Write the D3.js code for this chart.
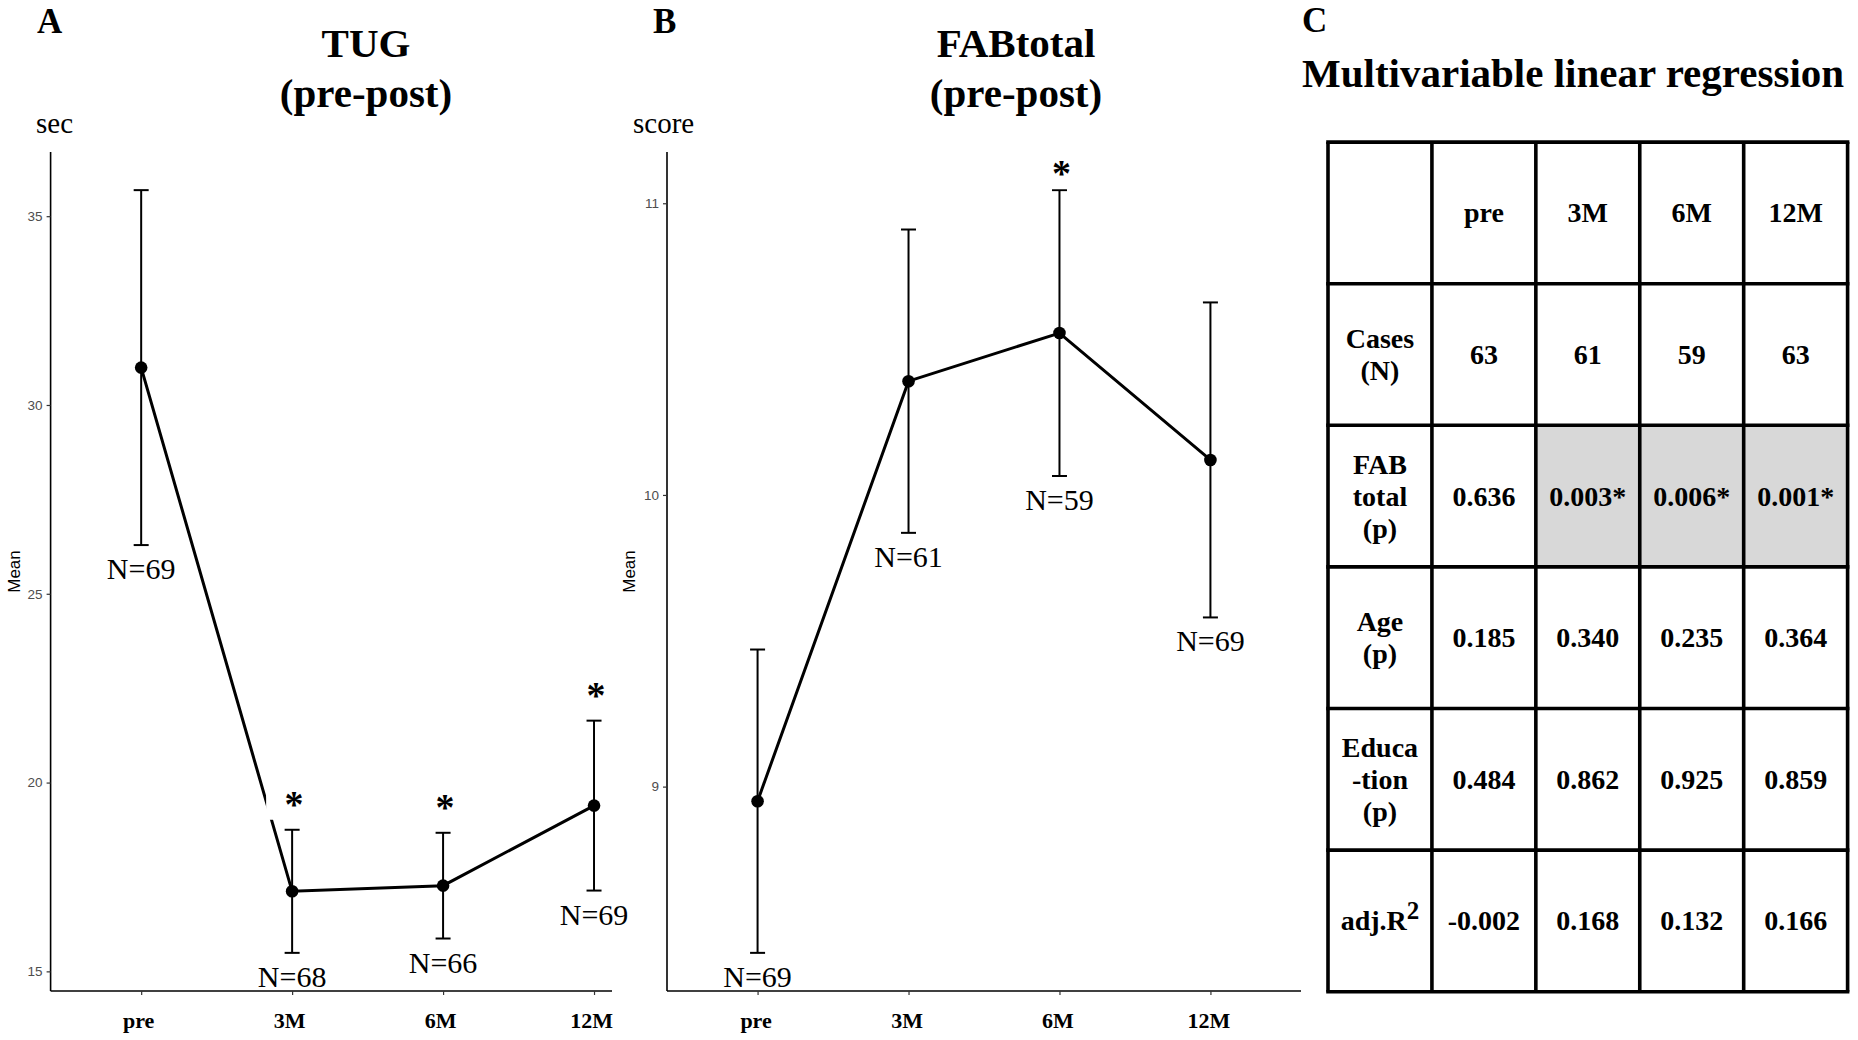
<!DOCTYPE html>
<html>
<head>
<meta charset="utf-8">
<script src="https://cdn.jsdelivr.net/npm/d3@7.9.0/dist/d3.min.js"></script>
<style>
  body { margin: 0; background: #fff; }
  svg { display: block; }
  .serif { font-family: "Liberation Serif", "Times New Roman", serif; }
  .sans { font-family: "Liberation Sans", Arial, sans-serif; }
</style>
</head>
<body>
<script>
// time points shared by both panels and the table
const timepoints = ['pre', '3M', '6M', '12M'];

// A: TUG (sec), mean and half-width of error bar
const tugMean = [30.99, 17.12, 17.27, 19.39];
const tugErr = [4.70, 1.63, 1.40, 2.25];
const tugN = [69, 68, 66, 69];
const tugSig = [false, true, true, true];
const tugTicks = [15, 20, 25, 30, 35];

// B: FAB total (score)
const fabMean = [8.95, 10.39, 10.555, 10.12];
const fabErr = [0.52, 0.52, 0.49, 0.54];
const fabN = [69, 61, 59, 69];
const fabSig = [false, false, true, false];
const fabTicks = [9, 10, 11];

// C: regression table
const rowKeys = ['head', 'cases', 'fab', 'age', 'edu', 'r2'];
const rowLabels = [[], ['Cases', '(N)'], ['FAB', 'total', '(p)'], ['Age', '(p)'], ['Educa', '-tion', '(p)'], ['adj.R']];
const casesN = ['63', '61', '59', '63'];
const fabP = ['0.636', '0.003*', '0.006*', '0.001*'];
const ageP = ['0.185', '0.340', '0.235', '0.364'];
const eduP = ['0.484', '0.862', '0.925', '0.859'];
const adjR2 = ['-0.002', '0.168', '0.132', '0.166'];
const fabHighlight = [false, true, true, true];

const W = 1858, H = 1040;
const svg = d3.select('body').append('svg').attr('width', W).attr('height', H);

const plotTop = 152, plotBottom = 991;

const panels = [
  { letter: 'A', title: ['TUG', '(pre-post)'], unit: 'sec', mean: tugMean, err: tugErr, n: tugN, sig: tugSig, ticks: tugTicks,
    left: 50.6, right: 684.6, axisEnd: 612, titleX: 366, letterX: 37, unitX: 36, meanX: 14, starGap: 30, labelDx: -3 },
  { letter: 'B', title: ['FABtotal', '(pre-post)'], unit: 'score', mean: fabMean, err: fabErr, n: fabN, sig: fabSig, ticks: fabTicks,
    left: 667, right: 1301, axisEnd: 1301, titleX: 1016, letterX: 653, unitX: 633, meanX: 629, starGap: 21, labelDx: -2 }
];

panels.forEach(p => {
  const g = svg.append('g');
  const rows = timepoints.map((t, i) => ({ t, m: p.mean[i], e: p.err[i], n: p.n[i], sig: p.sig[i] }));

  const x = d3.scalePoint().domain(timepoints).range([p.left, p.right]).padding(0.6);
  const lo = d3.min(rows, d => d.m - d.e), hi = d3.max(rows, d => d.m + d.e);
  const pad = (hi - lo) * 0.05;
  const y = d3.scaleLinear().domain([lo - pad, hi + pad]).range([plotBottom, plotTop]);

  // panel letter and title
  g.append('text').attr('class', 'serif').attr('x', p.letterX).attr('y', 33)
    .attr('font-size', 35).attr('font-weight', 'bold').text(p.letter);
  g.append('text').attr('class', 'serif').attr('x', p.titleX).attr('y', 57)
    .attr('text-anchor', 'middle').attr('font-size', 41).attr('font-weight', 'bold').text(p.title[0]);
  g.append('text').attr('class', 'serif').attr('x', p.titleX).attr('y', 107)
    .attr('text-anchor', 'middle').attr('font-size', 41).attr('font-weight', 'bold').text(p.title[1]);
  g.append('text').attr('class', 'serif').attr('x', p.unitX).attr('y', 133)
    .attr('font-size', 29).text(p.unit);

  // y axis
  const yAxis = g.append('g').attr('transform', `translate(${p.left},0)`)
    .call(d3.axisLeft(y).tickValues(p.ticks).tickFormat(d3.format('d'))
      .tickSize(4).tickSizeOuter(0).tickPadding(4));
  yAxis.select('.domain').attr('d', `M0,${plotTop}V${plotBottom}`).attr('stroke', '#000').attr('stroke-width', 1.6);
  yAxis.selectAll('.tick line').attr('stroke', '#333').attr('stroke-width', 1.2);
  yAxis.selectAll('.tick text').attr('class', 'sans').attr('font-size', 13.5).attr('fill', '#4d4d4d');

  g.append('text').attr('class', 'sans').attr('font-size', 17)
    .attr('transform', `translate(${p.meanX},${(plotTop + plotBottom) / 2}) rotate(-90)`)
    .attr('text-anchor', 'middle').attr('dominant-baseline', 'central').text('Mean');

  // x axis
  const xAxis = g.append('g').attr('transform', `translate(0,${plotBottom})`)
    .call(d3.axisBottom(x).tickSize(4).tickSizeOuter(0));
  xAxis.select('.domain').attr('d', `M${p.left},0H${p.axisEnd}`).attr('stroke', '#000').attr('stroke-width', 1.6);
  xAxis.selectAll('.tick line').attr('stroke', '#333').attr('stroke-width', 1.2);
  xAxis.selectAll('.tick text').attr('class', 'serif').attr('font-size', 22).attr('font-weight', 'bold')
    .attr('fill', '#000').attr('y', 37).attr('dy', 0).attr('dx', p.labelDx);

  // error bars
  const eb = g.append('g').attr('stroke', '#000').attr('stroke-width', 2);
  rows.forEach(d => {
    const cx = x(d.t);
    eb.append('line').attr('x1', cx).attr('x2', cx).attr('y1', y(d.m - d.e)).attr('y2', y(d.m + d.e));
    [d.m - d.e, d.m + d.e].forEach(v => {
      eb.append('line').attr('x1', cx - 7.5).attr('x2', cx + 7.5).attr('y1', y(v)).attr('y2', y(v));
    });
  });

  // mean line
  g.append('path').datum(rows)
    .attr('d', d3.line().x(d => x(d.t)).y(d => y(d.m)))
    .attr('fill', 'none').attr('stroke', '#000').attr('stroke-width', 3);

  // significance stars (white label box behind)
  rows.filter(d => d.sig).forEach(d => {
    const cx = x(d.t) + 2, cy = y(d.m + d.e) - p.starGap;
    g.append('rect').attr('x', cx - 28).attr('y', cy - 18).attr('width', 56).attr('height', 38).attr('fill', '#fff');
    g.append('text').attr('class', 'serif').attr('x', cx).attr('y', cy + 17)
      .attr('text-anchor', 'middle').attr('font-size', 38).attr('font-weight', 'bold').text('*');
  });

  // points
  g.selectAll('circle.pt').data(rows).join('circle').attr('class', 'pt')
    .attr('cx', d => x(d.t)).attr('cy', d => y(d.m)).attr('r', 6.3).attr('fill', '#000');

  // N labels
  g.selectAll('text.nlab').data(rows).join('text').attr('class', 'nlab serif')
    .attr('x', d => x(d.t)).attr('y', d => y(d.m - d.e) + 34)
    .attr('text-anchor', 'middle').attr('font-size', 30).text(d => `N=${d.n}`);
});

// ---- panel C: table ----
const tc = svg.append('g');
tc.append('text').attr('class', 'serif').attr('x', 1302).attr('y', 32)
  .attr('font-size', 35).attr('font-weight', 'bold').text('C');
tc.append('text').attr('class', 'serif').attr('x', 1302).attr('y', 87)
  .attr('font-size', 41).attr('font-weight', 'bold').text('Multivariable linear regression');

const colX = d3.scaleBand().domain(['label', ...timepoints]).range([1328, 1847.6]);
const rowY = d3.scaleBand().domain(rowKeys).range([142.1, 991.7]);
const bodyValues = { cases: casesN, fab: fabP, age: ageP, edu: eduP, r2: adjR2 };

const cells = [];
rowKeys.forEach((rk, ri) => {
  cells.push({ r: rk, c: 'label', lines: rowLabels[ri], fill: '#fff' });
  timepoints.forEach((t, ci) => {
    const text = rk === 'head' ? t : bodyValues[rk][ci];
    const fill = rk === 'fab' && fabHighlight[ci] ? '#d8d8d8' : '#fff';
    cells.push({ r: rk, c: t, lines: [text], fill });
  });
});

tc.selectAll('rect.cell').data(cells).join('rect').attr('class', 'cell')
  .attr('x', d => colX(d.c)).attr('y', d => rowY(d.r))
  .attr('width', colX.bandwidth()).attr('height', rowY.bandwidth())
  .attr('fill', d => d.fill);

// grid
const grid = tc.append('g').attr('stroke', '#000').attr('stroke-width', 3.6).attr('fill', 'none');
[...colX.domain().map(c => colX(c)), colX.range()[1]].forEach(xx => {
  grid.append('line').attr('x1', xx).attr('x2', xx).attr('y1', rowY.range()[0]).attr('y2', rowY.range()[1]);
});
[...rowY.domain().map(r => rowY(r)), rowY.range()[1]].forEach(yy => {
  grid.append('line').attr('x1', colX.range()[0] - 1.8).attr('x2', colX.range()[1] + 1.8).attr('y1', yy).attr('y2', yy);
});

const lineGap = 32;
cells.forEach(d => {
  const cx = colX(d.c) + colX.bandwidth() / 2;
  const cy = rowY(d.r) + rowY.bandwidth() / 2;
  const k = d.lines.length;
  d.lines.forEach((s, i) => {
    const t = tc.append('text').attr('class', 'serif').attr('x', cx)
      .attr('y', cy + (i - (k - 1) / 2) * lineGap + 9.5)
      .attr('text-anchor', 'middle').attr('font-size', 28).attr('font-weight', 'bold');
    if (d.r === 'r2' && d.c === 'label') {
      t.append('tspan').text(s);
      t.append('tspan').attr('dy', -11).attr('font-size', 25).text('2');
    } else {
      t.text(s);
    }
  });
});
</script>
</body>
</html>
